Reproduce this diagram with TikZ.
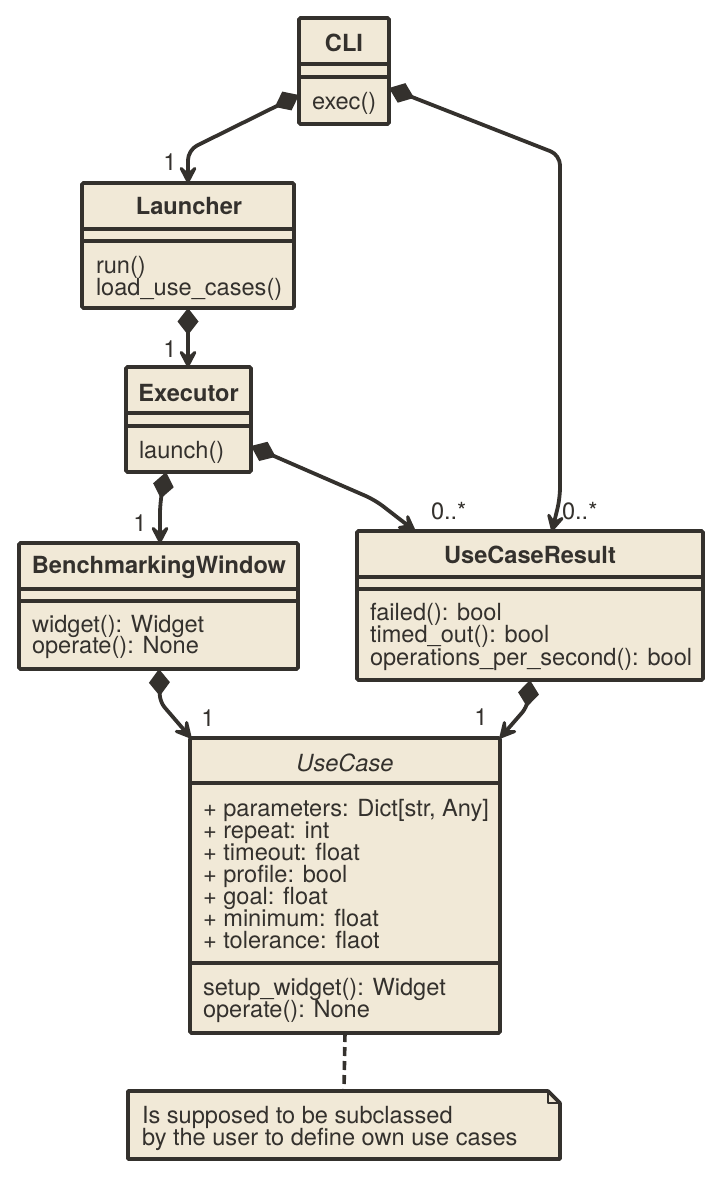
\documentclass[tikz,border=0pt]{standalone}
\usepackage{fontspec}
\setmainfont{TeX Gyre Heros}
\usetikzlibrary{arrows.meta,calc}
\definecolor{umlfill}{RGB}{241,233,215}
\definecolor{umlline}{RGB}{52,49,45}
\newcommand\ufont{\fontsize{23.6pt}{22pt}\selectfont}
\begin{document}
\begin{tikzpicture}[x=1pt,y=-1pt,
  classbox/.style={draw=umlline, fill=umlfill, line width=3.6pt, rectangle, rounded corners=1.5pt, inner sep=0pt, outer sep=0pt},
  sepline/.style={draw=umlline, line width=3.6pt},
  txt/.style={inner sep=0pt, outer sep=0pt, anchor=base west, text=umlline, font=\ufont},
  ttl/.style={inner sep=0pt, outer sep=0pt, anchor=base, text=umlline, font=\ufont\bfseries},
  conn/.style={draw=umlline, line width=3.8pt, line join=round, rounded corners=10pt,
    {Diamond[length=27pt,width=21pt]}-{Stealth[length=23pt,width=24pt,inset=11pt,round]}},
  mult/.style={inner sep=0pt, outer sep=0pt, anchor=base, text=umlline, font=\ufont},
]
\useasboundingbox (0,0) rectangle (721,1177);

% class boxes
\node[classbox, minimum width=90pt, minimum height=106pt] (cli) at (344,71) {};
\node[classbox, minimum width=212pt, minimum height=125pt] (launcher) at (188,245.5) {};
\node[classbox, minimum width=125pt, minimum height=105pt] (executor) at (188.5,419.5) {};
\node[classbox, minimum width=279pt, minimum height=126pt] (bw) at (158.5,606) {};
\node[classbox, minimum width=346pt, minimum height=149pt] (ucr) at (530,605.5) {};
\node[classbox, minimum width=310pt, minimum height=295pt] (uc) at (345,885.5) {};

% separators
\draw[sepline] (cli.west |- 0,64) -- (cli.east |- 0,64);
\draw[sepline] (cli.west |- 0,77) -- (cli.east |- 0,77);
\draw[sepline] (launcher.west |- 0,229) -- (launcher.east |- 0,229);
\draw[sepline] (launcher.west |- 0,241) -- (launcher.east |- 0,241);
\draw[sepline] (executor.west |- 0,413) -- (executor.east |- 0,413);
\draw[sepline] (executor.west |- 0,426) -- (executor.east |- 0,426);
\draw[sepline] (bw.west |- 0,589) -- (bw.east |- 0,589);
\draw[sepline] (bw.west |- 0,601) -- (bw.east |- 0,601);
\draw[sepline] (ucr.west |- 0,577) -- (ucr.east |- 0,577);
\draw[sepline] (ucr.west |- 0,589) -- (ucr.east |- 0,589);
\draw[sepline] (uc.west |- 0,783) -- (uc.east |- 0,783);
\draw[sepline] (uc.west |- 0,963) -- (uc.east |- 0,963);

% texts
\node[ttl] (t-cli) at (344,52) {CLI};
\node[txt] (cli-m1) at (312,110) {exec()};

\node[ttl] (t-launcher) at (189,214) {Launcher};
\node[txt] (la-m1) at (96,273) {run()};
\node[txt] (la-m2) at (96,295) {load\_use\_cases()};

\node[ttl] (t-executor) at (188.5,401) {Executor};
\node[txt] (ex-m1) at (139,458) {launch()};

\node[ttl] (t-bw) at (159,573) {BenchmarkingWindow};
\node[txt] (bw-m1) at (32,632) {widget(): Widget};
\node[txt] (bw-m2) at (32,653) {operate(): None};

\node[ttl] (t-ucr) at (530,563) {UseCaseResult};
\node[txt] (ucr-m1) at (370,620) {failed(): bool};
\node[txt] (ucr-m2) at (370,642) {timed\_out(): bool};
\node[txt] (ucr-m3) at (370,665) {operations\_per\_second(): bool};

\node[ttl, font=\ufont\itshape] (t-uc) at (345,771) {UseCase};
\node[txt] (uc-a1) at (203,816) {+ parameters: Dict[str, Any]};
\node[txt] (uc-a2) at (203,838) {+ repeat: int};
\node[txt] (uc-a3) at (203,860) {+ timeout: float};
\node[txt] (uc-a4) at (203,882) {+ profile: bool};
\node[txt] (uc-a5) at (203,904) {+ goal: float};
\node[txt] (uc-a6) at (203,926) {+ minimum: float};
\node[txt] (uc-a7) at (203,948) {+ tolerance: flaot};
\node[txt] (uc-m1) at (203,995) {setup\_widget(): Widget};
\node[txt] (uc-m2) at (203,1017) {operate(): None};

% note
\node[minimum width=432pt, minimum height=68pt, inner sep=0pt, outer sep=0pt] (note) at (344,1125) {};
\draw[draw=umlline, fill=umlfill, line width=3.6pt, line join=round]
  (note.north west) -- ($(note.north east)+(-12,0)$) -- ($(note.north east)+(0,12)$)
  -- (note.south east) -- (note.south west) -- cycle;
\draw[draw=umlline, line width=2.5pt, line join=round]
  ($(note.north east)+(-12,0)$) -- ($(note.north east)+(-12,12)$) -- ($(note.north east)+(0,12)$);
\node[txt] (note-l1) at (142,1123) {Is supposed to be subclassed};
\node[txt] (note-l2) at (142,1145) {by the user to define own use cases};
\draw[draw=umlline, line width=3.6pt, dash pattern=on 9pt off 5pt] (uc.south) -- (note.north);

% connectors
\draw[conn] (cli.west |- 0,95) -- (188,150) -- (launcher.north);
\draw[conn] (cli.east |- 0,88) -- (560,155) -- (560,498) -- (ucr.north -| 552,0);
\draw[conn] (launcher.south) -- (executor.north -| launcher.south);
\draw[conn] (executor.south -| 166,0) -- (160,503) -- (bw.north -| 160,0);
\draw[conn] (executor.east |- 0,446) -- (375,500) -- (ucr.north -| 415,0);
\draw[conn, rounded corners=7pt] (bw.south -| 159,0) -- (160,702) -- (uc.north -| 191,0);
\draw[conn, rounded corners=7pt] (ucr.south -| 530,0) -- (527,707) -- (uc.north -| 500,0);

% multiplicities
\node[mult] (m1) at (170,171) {1};
\node[mult] (m2) at (170,357) {1};
\node[mult] (m3) at (140,531) {1};
\node[mult] (m4) at (208,726) {1};
\node[mult] (m5) at (481,725) {1};
\node[mult, anchor=base west] (m6) at (431,519) {0..*};
\node[mult, anchor=base west] (m7) at (562,519) {0..*};
\end{tikzpicture}
\end{document}
